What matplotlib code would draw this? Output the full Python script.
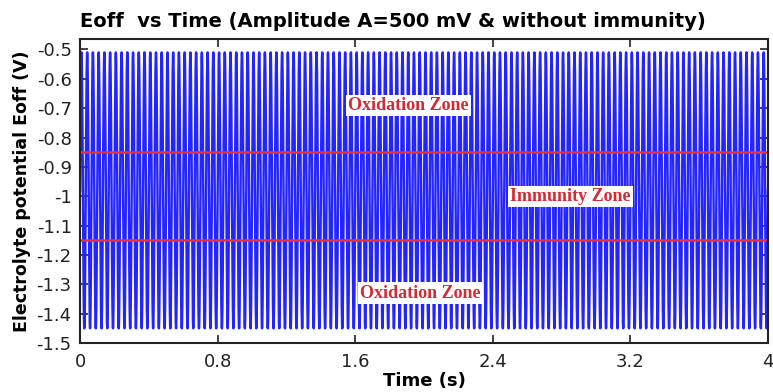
import numpy as np
import matplotlib
matplotlib.use("Agg")
from matplotlib import pyplot as plt

# signal
freq_hz = 30
v_top = -0.51
v_bottom = -1.45
t_end = 4.0

# zone borders and labels
zone_lines = [-0.85, -1.15]
zone_labels = ["Oxidation Zone", "Immunity Zone", "Oxidation Zone"]
label_t = [1.91, 2.85, 1.98]
label_v = [-0.69, -1.0, -1.33]

x_ticks = [0, 0.8, 1.6, 2.4, 3.2, 4]
x_tick_labels = ["0", "0.8", "1.6", "2.4", "3.2", "4"]
y_ticks = [-0.5, -0.6, -0.7, -0.8, -0.9, -1.0, -1.1, -1.2, -1.3, -1.4, -1.5]
y_tick_labels = ["-0.5", "-0.6", "-0.7", "-0.8", "-0.9", "-1", "-1.1", "-1.2", "-1.3", "-1.4", "-1.5"]

t = np.linspace(0, t_end, 16001)
mid = (v_top + v_bottom) / 2
amp = (v_top - v_bottom) / 2
eoff = mid + amp * np.sin(2 * np.pi * freq_hz * t)

plt.rcParams['font.family'] = ['DejaVu Sans']
plt.rcParams['axes.unicode_minus'] = False

fig = plt.figure(figsize=(7.73, 3.92), dpi=100)
ax = fig.add_axes([0.1035, 0.125, 0.89, 0.775])

ax.plot(t, eoff, color='#2424ff', lw=1.75)
for v in zone_lines:
    ax.axhline(v, color='#e8303a', lw=1.8)

for lab, tx, vy in zip(zone_labels, label_t, label_v):
    ax.text(tx, vy, lab, color='#d42a35', fontsize=13, fontweight='bold',
            family=['Liberation Serif'], ha='center', va='center',
            bbox=dict(facecolor='white', edgecolor='none', pad=1.5))

ax.set_xlim(0, 4)
ax.set_ylim(-1.5, -0.465)
ax.set_xticks(x_ticks)
ax.set_xticklabels(x_tick_labels)
ax.set_yticks(y_ticks)
ax.set_yticklabels(y_tick_labels)
ax.tick_params(direction='in', length=6, width=1.2, labelsize=13,
               top=True, right=True, colors='#222222', pad=6)
ax.tick_params(axis='x', pad=7)
for s in ax.spines.values():
    s.set_linewidth(1.5)
    s.set_color('#222222')

ax.set_title("Eoff  vs Time (Amplitude A=500 mV & without immunity)",
             loc='left', fontsize=14, fontweight='bold', pad=9)
ax.set_xlabel("Time (s)", fontsize=13, fontweight='bold', labelpad=1)
ax.set_ylabel("Electrolyte potential Eoff (V)", fontsize=12.5, fontweight='bold', labelpad=4)

fig.savefig('out.png', dpi=100)
